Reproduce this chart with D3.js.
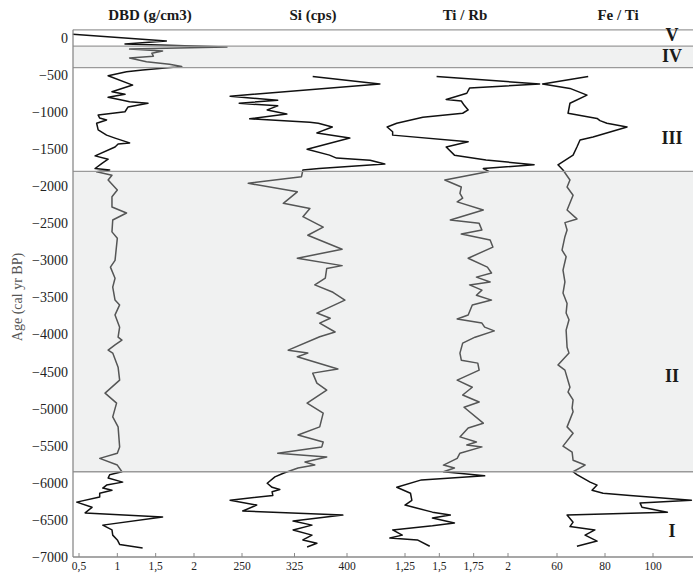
<!DOCTYPE html>
<html>
<head>
<meta charset="utf-8">
<script src="https://cdn.jsdelivr.net/npm/d3@7"></script>
<style>
  body { margin: 0; background: #fff; }
  svg text { font-family: "Liberation Serif", "DejaVu Serif", serif; }
</style>
</head>
<body>
<div id="chart"></div>
<script>
// ---- data (age in cal yr BP, negative = older) ----
var dbdAge = [50,-40,-80,-120,-150,-175,-205,-245,-270,-320,-355,-385,-430,-455,-510,-635,-725,-760,-800,-840,-860,-880,-930,-995,-1015,-1040,-1080,-1105,-1150,-1240,-1310,-1350,-1415,-1430,-1470,-1590,-1635,-1690,-1760,-1780,-1805,-1850,-1915,-2050,-2140,-2280,-2360,-2455,-2615,-2700,-3000,-3090,-3240,-3360,-3535,-3600,-3735,-3900,-4035,-4075,-4140,-4210,-4250,-4440,-4615,-4790,-4925,-5110,-5245,-5515,-5600,-5670,-5760,-5850,-5890,-5935,-5990,-6030,-6070,-6100,-6140,-6190,-6260,-6330,-6405,-6460,-6570,-6635,-6705,-6770,-6830,-6880];
var dbdVal = [0.42,1.64,1.1,2.43,1.16,1.59,1.45,1.47,1.16,1.38,1.68,1.84,1.33,1.12,0.88,1.2,0.93,1.1,0.88,1.07,1.16,1.4,1.14,1.1,0.94,0.75,0.77,0.86,0.73,0.75,0.86,0.97,1.16,1.01,0.97,0.71,0.88,0.8,0.71,0.9,0.73,0.93,0.88,1.0,0.93,0.93,1.12,0.94,0.93,1.0,0.97,0.91,0.97,0.94,0.97,1.03,0.97,1.03,1.01,1.06,0.97,0.88,0.94,1.01,1.03,0.84,0.99,0.94,1.01,1.03,1.0,0.77,1.0,1.06,0.9,0.88,1.07,0.86,0.81,0.93,0.77,0.77,0.47,0.67,0.58,1.59,0.81,0.93,0.94,1.0,1.03,1.33];

var siAge = [-520,-620,-785,-840,-880,-915,-970,-1025,-1090,-1135,-1150,-1200,-1280,-1350,-1500,-1580,-1620,-1650,-1700,-1760,-1780,-1870,-1960,-2075,-2230,-2300,-2410,-2550,-2660,-2850,-2970,-3070,-3110,-3240,-3330,-3430,-3535,-3710,-3780,-3845,-3965,-4030,-4210,-4250,-4300,-4465,-4520,-4655,-4750,-4925,-5060,-5245,-5355,-5450,-5515,-5600,-5650,-5720,-5760,-5800,-5870,-5920,-6005,-6060,-6090,-6120,-6170,-6235,-6300,-6380,-6435,-6515,-6570,-6635,-6705,-6770,-6815,-6865];
var siVal = [351,447,233,301,246,301,286,314,261,347,359,379,357,404,343,375,385,433,454,360,337,335,259,329,309,347,337,366,344,393,329,393,371,369,354,380,397,357,376,361,383,361,316,344,329,387,351,357,371,343,366,361,330,366,364,301,371,340,354,330,309,297,286,293,304,293,294,233,271,251,394,323,350,323,350,337,357,343];

var tiAge = [-520,-620,-675,-745,-830,-850,-905,-970,-1015,-1070,-1150,-1200,-1265,-1310,-1400,-1470,-1580,-1645,-1710,-1760,-1800,-1915,-2010,-2095,-2160,-2210,-2320,-2455,-2500,-2590,-2645,-2725,-2820,-2970,-3090,-3170,-3225,-3290,-3330,-3400,-3470,-3535,-3600,-3735,-3790,-3845,-3900,-3950,-4035,-4115,-4250,-4345,-4385,-4480,-4615,-4710,-4815,-4910,-4980,-5195,-5260,-5380,-5450,-5490,-5515,-5600,-5670,-5760,-5800,-5850,-5905,-5960,-6060,-6140,-6235,-6300,-6395,-6435,-6475,-6540,-6580,-6635,-6705,-6745,-6770,-6855];
var tiVal = [1.48,2.23,1.72,1.70,1.55,1.66,1.68,1.71,1.67,1.38,1.19,1.12,1.16,1.16,1.71,1.55,1.61,1.84,2.19,1.82,1.86,1.54,1.66,1.65,1.67,1.63,1.82,1.58,1.79,1.81,1.66,1.87,1.89,1.71,1.85,1.88,1.77,1.87,1.72,1.81,1.77,1.88,1.74,1.71,1.63,1.81,1.83,1.90,1.76,1.67,1.65,1.66,1.78,1.79,1.63,1.74,1.67,1.79,1.68,1.82,1.71,1.65,1.77,1.70,1.81,1.65,1.63,1.53,1.61,1.53,1.83,1.37,1.19,1.29,1.30,1.25,1.45,1.58,1.45,1.61,1.45,1.16,1.23,1.14,1.34,1.43];

var feAge = [-520,-620,-680,-770,-880,-1015,-1085,-1115,-1150,-1200,-1335,-1375,-1470,-1580,-1710,-1780,-1915,-2010,-2120,-2320,-2440,-2490,-2590,-2680,-2860,-2950,-3130,-3290,-3440,-3580,-3710,-3800,-3940,-4170,-4250,-4410,-4480,-4710,-4775,-4880,-4990,-5040,-5245,-5330,-5505,-5585,-5695,-5760,-5850,-5890,-5990,-6030,-6100,-6140,-6170,-6235,-6270,-6330,-6395,-6435,-6530,-6590,-6635,-6705,-6785,-6855];
var feVal = [73,54,65.4,72.5,65.4,64.6,76.7,77.9,80.8,89.2,75,69.6,68.3,66.7,60.4,62.5,65.4,64.2,66.7,64.2,68.3,63.3,64.2,63.3,62.1,63.8,62.5,63.3,62.5,64.2,63.8,65,63.8,64.2,65,60.4,63.3,65.4,64.6,66.7,66.3,66.7,64.2,66.7,62.5,66.3,66.7,71.7,66.7,68.3,73.8,76.7,74.6,79.2,90.4,116,94.6,95.4,106,64.2,66.7,65.4,75.8,71.7,76.7,68.3];

var titles = ["DBD (g/cm3)", "Si (cps)", "Ti / Rb", "Fe / Ti"];
var dbdTicks = [0.5, 1, 1.5, 2];
var siTicks = [250, 325, 400];
var tiTicks = [1.25, 1.5, 1.75, 2];
var feTicks = [60, 80, 100];
var ageTicks = d3.range(0, -7001, -500);

var zoneNames = ["V", "IV", "III", "II", "I"];
var zoneBounds = [110, -110, -400, -1800, -5850, -7000];
var zoneShaded = [false, true, false, true, false];
var zoneLabelAge = [40, -245, -1350, -4550, -6650];

// ---- layout ----
var width = 693, height = 575;
var plotLeft = 73, plotRight = 693;

var svg = d3.select("#chart").append("svg")
    .attr("width", width)
    .attr("height", height);

var y = d3.scaleLinear().domain([0, -7000]).range([38, 557]);

var panels = [
    { age: dbdAge, val: dbdVal, ticks: dbdTicks, x: d3.scaleLinear().domain([0.5, 2]).range([79, 194]), titleX: 150 },
    { age: siAge, val: siVal, ticks: siTicks, x: d3.scaleLinear().domain([250, 400]).range([242, 347]), titleX: 313 },
    { age: tiAge, val: tiVal, ticks: tiTicks, x: d3.scaleLinear().domain([1.25, 2]).range([405, 508]), titleX: 465 },
    { age: feAge, val: feVal, ticks: feTicks, x: d3.scaleLinear().domain([60, 100]).range([557, 653]), titleX: 618 }
];

var commaFmt = d3.formatLocale({ decimal: ",", thousands: ".", grouping: [3], currency: ["", ""] }).format("~g");

// series lines
panels.forEach(function(p) {
    var pts = p.age.map(function(a, i) { return [a, p.val[i]]; });
    var line = d3.line()
        .x(function(d) { return p.x(d[1]); })
        .y(function(d) { return y(d[0]); });
    svg.append("path")
        .datum(pts)
        .attr("d", line)
        .attr("fill", "none")
        .attr("stroke", "#111")
        .attr("stroke-width", 1.5)
        .attr("stroke-linejoin", "round");
});

// shaded zones sit over the lines (translucent, greys them)
zoneNames.forEach(function(z, i) {
    if (!zoneShaded[i]) return;
    svg.append("rect")
        .attr("x", plotLeft)
        .attr("y", y(zoneBounds[i]))
        .attr("width", plotRight - plotLeft)
        .attr("height", y(zoneBounds[i + 1]) - y(zoneBounds[i]))
        .attr("fill", "#d4d8d8")
        .attr("fill-opacity", 0.35);
});

// zone boundary lines
svg.selectAll(".zline")
    .data(zoneBounds.slice(0, -1))
    .enter().append("line")
    .attr("x1", plotLeft).attr("x2", plotRight)
    .attr("y1", function(d) { return y(d); })
    .attr("y2", function(d) { return y(d); })
    .attr("stroke", "#9a9a9a")
    .attr("stroke-width", 1.3);

// zone labels
svg.selectAll(".zlabel")
    .data(zoneNames)
    .enter().append("text")
    .attr("x", 672)
    .attr("y", function(d, i) { return y(zoneLabelAge[i]); })
    .attr("dy", "0.35em")
    .attr("text-anchor", "middle")
    .style("font-size", "18px")
    .style("font-weight", "bold")
    .attr("fill", "#1a1a1a")
    .text(function(d) { return d; });

// left axis
svg.append("line")
    .attr("x1", plotLeft).attr("x2", plotLeft)
    .attr("y1", y(110)).attr("y2", y(-7000))
    .attr("stroke", "#8a8a8a").attr("stroke-width", 1.3);

svg.selectAll(".ytick")
    .data(ageTicks)
    .enter().append("text")
    .attr("x", 68)
    .attr("y", function(d) { return y(d); })
    .attr("dy", "0.35em")
    .attr("text-anchor", "end")
    .style("font-size", "14px")
    .attr("fill", "#222")
    .text(d3.format("d"));

svg.append("text")
    .attr("transform", "translate(17,297) rotate(-90)")
    .attr("text-anchor", "middle")
    .attr("dy", "0.35em")
    .style("font-size", "14px")
    .attr("fill", "#555")
    .text("Age (cal yr BP)");

// bottom axis
svg.append("line")
    .attr("x1", plotLeft).attr("x2", plotRight)
    .attr("y1", y(-7000)).attr("y2", y(-7000))
    .attr("stroke", "#8a8a8a").attr("stroke-width", 1.5);

panels.forEach(function(p) {
    var g = svg.append("g");
    g.selectAll("line")
        .data(p.ticks)
        .enter().append("line")
        .attr("x1", function(d) { return p.x(d); })
        .attr("x2", function(d) { return p.x(d); })
        .attr("y1", y(-7000) - 4).attr("y2", y(-7000))
        .attr("stroke", "#8a8a8a");
    g.selectAll("text")
        .data(p.ticks)
        .enter().append("text")
        .attr("x", function(d) { return p.x(d); })
        .attr("y", 566)
        .attr("dy", "0.35em")
        .attr("text-anchor", "middle")
        .style("font-size", "11.5px")
        .attr("fill", "#222")
        .text(commaFmt);
});

// titles
svg.selectAll(".title")
    .data(panels)
    .enter().append("text")
    .attr("x", function(d) { return d.titleX; })
    .attr("y", 15)
    .attr("dy", "0.35em")
    .attr("text-anchor", "middle")
    .style("font-size", "15px")
    .style("font-weight", "bold")
    .attr("fill", "#1a1a1a")
    .text(function(d, i) { return titles[i]; });
</script>
</body>
</html>
